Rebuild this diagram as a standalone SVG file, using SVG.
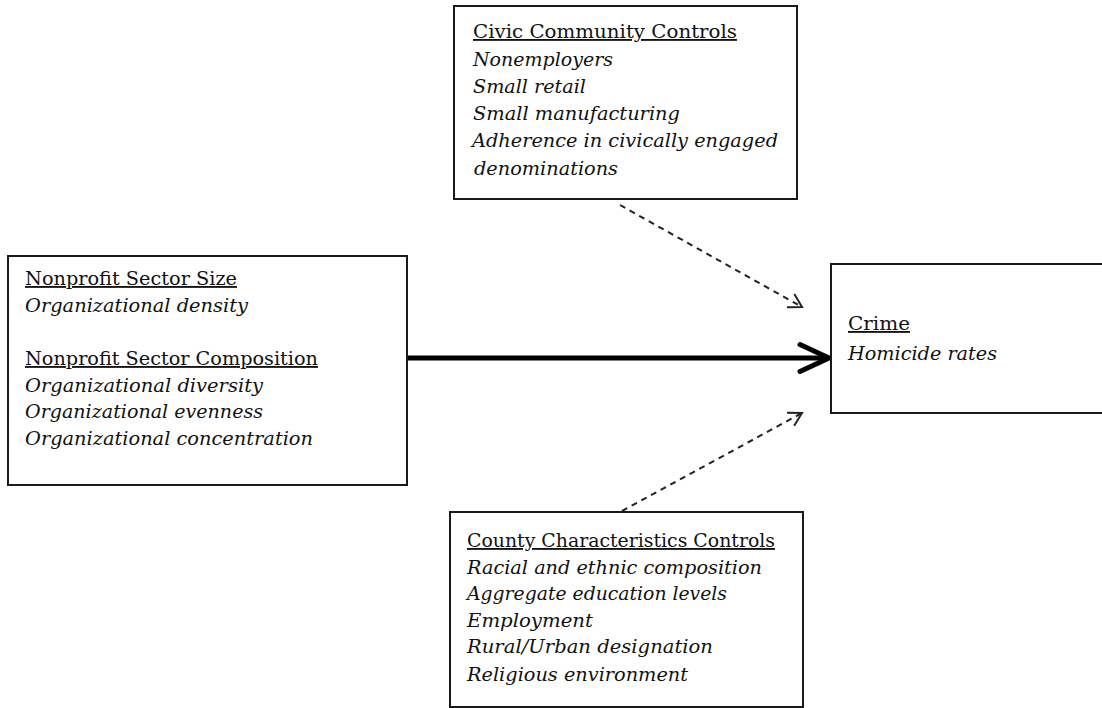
<svg xmlns="http://www.w3.org/2000/svg" width="1102" height="708" viewBox="0 0 1102 708">
  <style>
    .box { fill: #ffffff; stroke: #1a1a1a; stroke-width: 2; }
    .t { font-family: "DejaVu Serif", "Liberation Serif", serif; font-size: 18.5px; fill: #111111; }
    .h { text-decoration: underline; }
    .i { font-style: italic; }
    .main { stroke: #000000; stroke-width: 5; fill: none; }
    .dash { stroke: #222222; stroke-width: 2; fill: none; stroke-dasharray: 6 5; }
  </style>
  <defs>
    <marker id="bigArrow" markerUnits="userSpaceOnUse" viewBox="-34 -18 40 36" refX="0" refY="0" markerWidth="40" markerHeight="36" orient="auto">
      <path d="M-29,-13.5 L0,0 L-29,13.5" fill="none" stroke="#000000" stroke-width="5" stroke-linejoin="miter" stroke-linecap="round"/>
    </marker>
    <marker id="openArrow" markerUnits="userSpaceOnUse" viewBox="-18 -12 22 24" refX="0" refY="0" markerWidth="22" markerHeight="24" orient="auto">
      <path d="M-13,-7.5 L0,0 L-13,7.5" fill="none" stroke="#222222" stroke-width="2"/>
    </marker>
  </defs>

  <g id="connectors">
    <line class="main" x1="407" y1="358" x2="829" y2="358" marker-end="url(#bigArrow)"/>
    <line class="dash" x1="620" y1="205" x2="802" y2="307" marker-end="url(#openArrow)"/>
    <line class="dash" x1="622" y1="511" x2="802" y2="413" marker-end="url(#openArrow)"/>
  </g>

  <g id="civic-controls">
    <rect class="box" x="454" y="6" width="343" height="193"/>
    <text class="t h" x="473" y="38" textLength="264" lengthAdjust="spacingAndGlyphs">Civic Community Controls</text>
    <text class="t i" x="473" y="66" textLength="140" lengthAdjust="spacingAndGlyphs">Nonemployers</text>
    <text class="t i" x="473" y="93" textLength="113" lengthAdjust="spacingAndGlyphs">Small retail</text>
    <text class="t i" x="473" y="120" textLength="207" lengthAdjust="spacingAndGlyphs">Small manufacturing</text>
    <text class="t i" x="472" y="147" textLength="306" lengthAdjust="spacingAndGlyphs">Adherence in civically engaged</text>
    <text class="t i" x="474" y="175" textLength="144" lengthAdjust="spacingAndGlyphs">denominations</text>
  </g>

  <g id="nonprofit-sector">
    <rect class="box" x="8" y="256" width="399" height="229"/>
    <text class="t h" x="25" y="285" textLength="212" lengthAdjust="spacingAndGlyphs">Nonprofit Sector Size</text>
    <text class="t i" x="25" y="312" textLength="223" lengthAdjust="spacingAndGlyphs">Organizational density</text>
    <text class="t h" x="25" y="365" textLength="293" lengthAdjust="spacingAndGlyphs">Nonprofit Sector Composition</text>
    <text class="t i" x="25" y="392" textLength="238" lengthAdjust="spacingAndGlyphs">Organizational diversity</text>
    <text class="t i" x="25" y="418" textLength="238" lengthAdjust="spacingAndGlyphs">Organizational evenness</text>
    <text class="t i" x="25" y="445" textLength="288" lengthAdjust="spacingAndGlyphs">Organizational concentration</text>
  </g>

  <g id="crime">
    <rect class="box" x="831" y="264" width="290" height="149"/>
    <text class="t h" x="848" y="330" textLength="62" lengthAdjust="spacingAndGlyphs">Crime</text>
    <text class="t i" x="848" y="360" textLength="149" lengthAdjust="spacingAndGlyphs">Homicide rates</text>
  </g>

  <g id="county-controls">
    <rect class="box" x="450" y="512" width="353" height="195"/>
    <text class="t h" x="467" y="547" textLength="308" lengthAdjust="spacingAndGlyphs">County Characteristics Controls</text>
    <text class="t i" x="467" y="574" textLength="295" lengthAdjust="spacingAndGlyphs">Racial and ethnic composition</text>
    <text class="t i" x="467" y="600" textLength="260" lengthAdjust="spacingAndGlyphs">Aggregate education levels</text>
    <text class="t i" x="467" y="627" textLength="126" lengthAdjust="spacingAndGlyphs">Employment</text>
    <text class="t i" x="467" y="653" textLength="246" lengthAdjust="spacingAndGlyphs">Rural/Urban designation</text>
    <text class="t i" x="467" y="681" textLength="221" lengthAdjust="spacingAndGlyphs">Religious environment</text>
  </g>
</svg>
